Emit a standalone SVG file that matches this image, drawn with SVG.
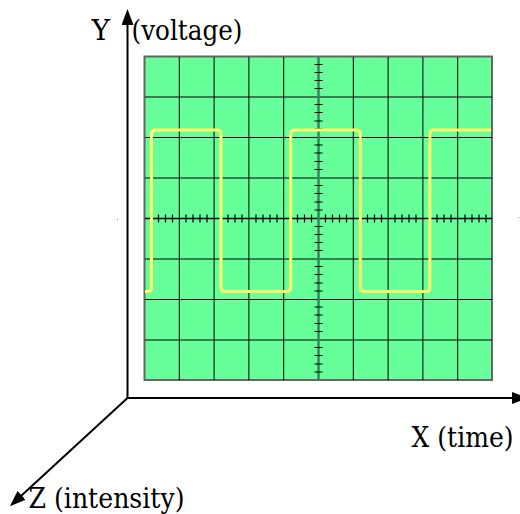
<svg xmlns="http://www.w3.org/2000/svg" width="520" height="514" viewBox="0 0 520 514">
<style>
.lbl{font-family:'DejaVu Serif',serif;font-size:27px;fill:#000}
.axis{stroke:#000;stroke-width:2;fill:none}
.grid{stroke:#000;stroke-width:1;fill:none}
.tick{stroke:#000;stroke-width:1.2;fill:none}
.wave{stroke:#ffff66;stroke-width:3;fill:none;stroke-linejoin:round}
</style>
<defs>
<marker id="arr" viewBox="0 0 16 12" refX="9" refY="6" markerWidth="16" markerHeight="12" markerUnits="userSpaceOnUse" orient="auto">
<path d="M0,0 L16,6 L0,12 z" fill="#000"/>
</marker>
</defs>
<g id="screen">
<rect x="144.5" y="56.5" width="347.5" height="323.5" fill="#66ff99" stroke="#666" stroke-width="2"/>
<path class="grid" d="M179.3,57V380 M214.1,57V380 M248.9,57V380 M283.7,57V380 M353.3,57V380 M388.1,57V380 M422.9,57V380 M457.7,57V380 M145,97H492 M145,137.5H492 M145,178H492 M145,259H492 M145,299.5H492 M145,340H492"/>
<path d="M145,218.5H492" stroke="#000" stroke-width="1.3"/>
<path d="M318.5,57V380" stroke="#2e8b57" stroke-width="2.5"/>
<path class="tick" d="M314.5,64.5h8M314.5,72.5h8M314.5,80.5h8M314.5,88.5h8M314.5,104.5h8M314.5,112.5h8M314.5,121h8M314.5,129h8M314.5,145h8M314.5,153h8M314.5,161.5h8M314.5,169.5h8M314.5,185.5h8M314.5,193.5h8M314.5,202h8M314.5,210h8M314.5,226.5h8M314.5,234.5h8M314.5,242.5h8M314.5,250.5h8M314.5,266.5h8M314.5,274.5h8M314.5,283h8M314.5,291h8M314.5,307h8M314.5,315h8M314.5,323.5h8M314.5,331.5h8M314.5,347.5h8M314.5,355.5h8M314.5,364h8M314.5,372h8"/>
<path class="tick" d="M151.5,214.5v8M158.5,214.5v8M165.5,214.5v8M172.5,214.5v8M186,214.5v8M193,214.5v8M200,214.5v8M207,214.5v8M221,214.5v8M228,214.5v8M235,214.5v8M242,214.5v8M256,214.5v8M263,214.5v8M270,214.5v8M277,214.5v8M290.5,214.5v8M297.5,214.5v8M304.5,214.5v8M311.5,214.5v8M325.5,214.5v8M332.5,214.5v8M339.5,214.5v8M346.5,214.5v8M360.5,214.5v8M367.5,214.5v8M374.5,214.5v8M381.5,214.5v8M395,214.5v8M402,214.5v8M409,214.5v8M416,214.5v8M430,214.5v8M437,214.5v8M444,214.5v8M451,214.5v8M465,214.5v8M472,214.5v8M479,214.5v8M486,214.5v8"/>
<path class="wave" d="M145,291.5 H147.5 Q151.5,291.5 151.5,287.5 V134 Q151.5,130 155.5,130 H217 Q221,130 221,134 V287.5 Q221,291.5 225,291.5 H286.7 Q290.7,291.5 290.7,287.5 V134 Q290.7,130 294.7,130 H356.3 Q360.3,130 360.3,134 V287.5 Q360.3,291.5 364.3,291.5 H425.9 Q429.9,291.5 429.9,287.5 V134 Q429.9,130 433.9,130 H491"/>
<rect x="117" y="219" width="1" height="1" fill="#888"/>
<rect x="518.5" y="217" width="1" height="1" fill="#888"/>
</g>
<g id="connectors">
<path class="axis" d="M127.5,398 V16" marker-end="url(#arr)"/>
<path class="axis" d="M127.5,398 H521" marker-end="url(#arr)"/>
<path class="axis" d="M127.5,398 L15,501.5" marker-end="url(#arr)"/>
</g>
<g id="labels">
<text class="lbl" x="91.5" y="39.5" textLength="18.5" lengthAdjust="spacingAndGlyphs">Y</text>
<text class="lbl" x="131.5" y="39.5" textLength="111" lengthAdjust="spacingAndGlyphs">(voltage)</text>
<text class="lbl" x="411.5" y="446.5" textLength="102" lengthAdjust="spacingAndGlyphs">X (time)</text>
<text class="lbl" x="28.5" y="508" textLength="156" lengthAdjust="spacingAndGlyphs">Z (intensity)</text>
</g>
</svg>
